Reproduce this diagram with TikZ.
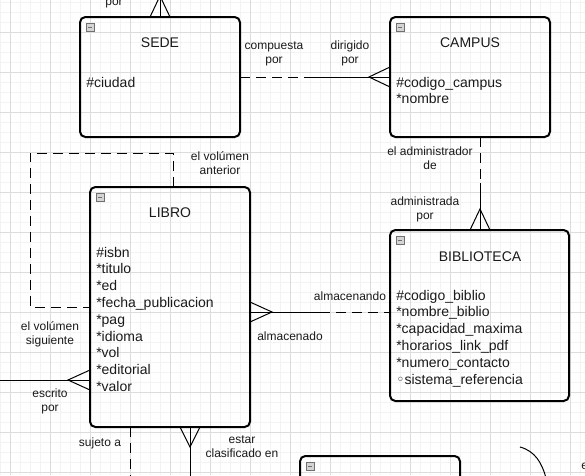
\documentclass[tikz,border=0pt]{standalone}
\usepackage{fontspec}
\setmainfont{Liberation Sans}
\newfontfamily\symfont{DejaVu Sans}
\usetikzlibrary{calc}
\definecolor{gridminor}{HTML}{F3F3F3}
\definecolor{gridmajor}{HTML}{DCDCDC}
\definecolor{txt}{HTML}{1A1A1A}
\definecolor{iconfill}{HTML}{D4D4D4}
\definecolor{iconline}{HTML}{707070}
\begin{document}
\begin{tikzpicture}[x=0.75pt,y=-0.75pt,
  box/.style={draw, line width=1.5pt, rounded corners=4pt, inner sep=0pt, outer sep=0pt, anchor=north west},
  link/.style={line width=0.75pt, black},
  dlink/.style={link, dash pattern=on 7.5pt off 4.5pt},
  lbl/.style={font=\fontsize{9}{10.8}\selectfont, align=center, anchor=base, inner sep=0pt, text=txt},
  attr/.style={font=\fontsize{10.5}{12.6}\selectfont, align=left, anchor=base west, inner sep=0pt, text=txt},
  ttl/.style={font=\fontsize{10.5}{12.6}\selectfont, anchor=base, inner sep=0pt, text=txt},
  iconbox/.style={draw=iconline, fill=iconfill, line width=0.6pt}]
\useasboundingbox (0,0) rectangle (585,475);
\fill[white] (0,0) rectangle (585,475);
% grid
\foreach \x in {0,10,...,580} \draw[gridminor, line width=0.6pt] (\x,0) -- (\x,475);
\foreach \y in {2,12,...,472} \draw[gridminor, line width=0.6pt] (0,\y) -- (585,\y);
\foreach \x in {10,50,...,570} \draw[gridmajor, line width=0.6pt] (\x,0) -- (\x,475);
\foreach \y in {32,72,...,472} \draw[gridmajor, line width=0.6pt] (0,\y) -- (585,\y);

% boxes
\node[box, minimum width=120pt, minimum height=90pt] (sede) at (80,17) {};
\node[box, minimum width=120pt, minimum height=90pt] (campus) at (390,17) {};
\node[box, minimum width=120pt, minimum height=180pt] (libro) at (90,187) {};
\node[box, minimum width=134.25pt, minimum height=128.25pt] (biblio) at (390,230) {};
\node[box, minimum width=120pt, minimum height=30pt] (bottom) at (300,456) {};

\foreach \n in {sede,campus,libro,biblio,bottom} {
  \draw[iconbox] ($(\n.north west)+(6,6)$) rectangle ($(\n.north west)+(14,14)$);
  \draw[iconline, line width=0.7pt] ($(\n.north west)+(7.8,10)$) -- ($(\n.north west)+(12.2,10)$);
}

% titles and attributes (multi-line nodes: base = last line)
\node[ttl] (sedet) at (160,47) {SEDE};
\node[attr] (sedea) at (86,87) {\#ciudad};
\node[ttl] (campust) at (470,47) {CAMPUS};
\node[attr] (campusa) at (396,103.8) {\#codigo\_campus\\*nombre};
\node[ttl] (librot) at (170,217) {LIBRO};
\node[attr] (libroa) at (96,391.4) {\#isbn\\*titulo\\*ed\\*fecha\_publicacion\\*pag\\*idioma\\*vol\\*editorial\\*valor};
\node[ttl] (bibliot) at (480,261) {BIBLIOTECA};
\node[attr] (biblioa) at (396,384) {\#codigo\_biblio\\*nombre\_biblio\\*capacidad\_maxima\\*horarios\_link\_pdf\\*numero\_contacto\\{\symfont ◦}sistema\_referencia};

% SEDE top
\coordinate (topend) at (160,-4);
\draw[link] (topend) -- (sede.north);
\draw[link] (sede.north -| 150,0) -- (topend) -- (sede.north -| 170,0);

% SEDE - CAMPUS
\coordinate (m1) at (310,77);
\draw[dlink] (sede.east) -- (m1);
\draw[link] (m1) -- (campus.west);
\draw[link] (campus.west |- 0,67) -- (369,77) -- (campus.west |- 0,87);

% CAMPUS - BIBLIOTECA
\coordinate (m2) at (480,183);
\draw[dlink] (campus.south -| 480,0) -- (m2);
\draw[link] (m2) -- (biblio.north -| 480,0);
\draw[link] (biblio.north -| 470,0) -- (480,209) -- (biblio.north -| 490,0);

% LIBRO - BIBLIOTECA
\coordinate (m3) at (320,312);
\draw[link] (libro.east |- 0,312) -- (m3);
\draw[dlink] (m3) -- (biblio.west |- 0,312);
\draw[link] (libro.east |- 0,302) -- (272,312) -- (libro.east |- 0,322);

% LIBRO self relation
\draw[dlink] (libro.north -| 173,0) -- (173,153) -- (30,153) -- (30,307) -- (libro.west);

% escrito por
\coordinate (lend) at (-2,380);
\draw[link] (lend) -- (libro.west |- 0,380);
\draw[link] (libro.west |- 0,370) -- (68,380) -- (libro.west |- 0,390);

% sujeto a
\coordinate (b1) at (130,478);
\draw[dlink] (libro.south -| 130,0) -- (b1);

% clasificado en
\coordinate (b2) at (190,478);
\draw[link] (libro.south -| 190,0) -- (b2);
\draw[link] (libro.south -| 180,0) -- (190,447) -- (libro.south -| 200,0);

% curve at bottom right
\coordinate (c1) at (520,447);
\coordinate (c2) at (546,478);
\draw[link] (c1) .. controls (535,451) and (542,463) .. (c2);

% labels
\node[lbl] (l1) at (114,5) {por};
\node[lbl] (l2) at (274,63.4) {compuesta\\por};
\node[lbl] (l3) at (350,63.4) {dirigido\\por};
\node[lbl] (l4) at (430,169.4) {el administrador\\de};
\node[lbl] (l5) at (425,219.4) {administrada\\por};
\node[lbl] (l6) at (220,174.4) {el volúmen\\anterior};
\node[lbl] (l7) at (50,344.4) {el volúmen\\siguiente};
\node[lbl] (l8) at (50,411.4) {escrito\\por};
\node[lbl] (l9) at (350,300) {almacenando};
\node[lbl] (l10) at (290,340) {almacenado};
\node[lbl] (l11) at (100,446) {sujeto a};
\node[lbl] (l12) at (242,457.4) {estar\\clasificado en};
\node[lbl, anchor=base west] (l13) at (581,469) {e};
\end{tikzpicture}
\end{document}
